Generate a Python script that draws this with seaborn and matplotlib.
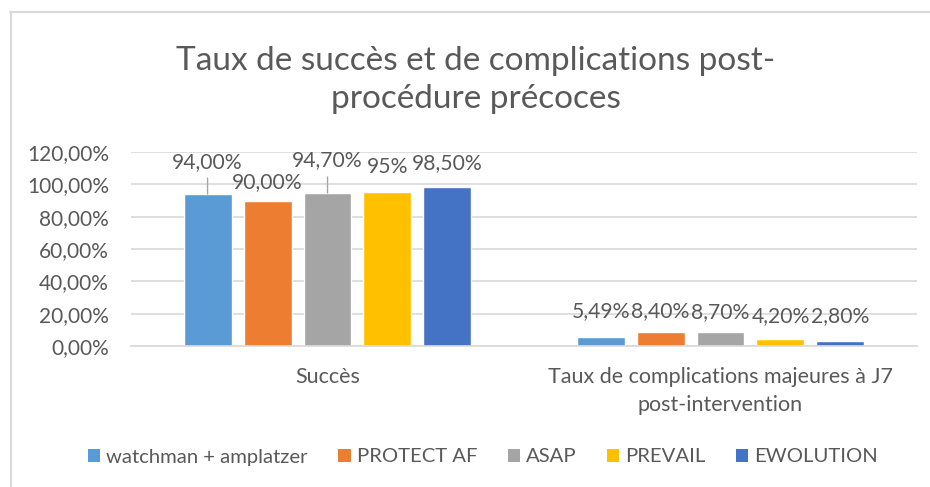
import matplotlib
matplotlib.use("Agg")
import matplotlib.pyplot as plt
import matplotlib.lines as mlines
import matplotlib.patches as mpatches
import seaborn as sns
import pandas as pd

# Data
categories = ["Succès", "Taux de complications majeures à J7\npost-intervention"]
series = ["watchman + amplatzer", "PROTECT AF", "ASAP", "PREVAIL", "EWOLUTION"]
succes = [94.00, 90.00, 94.70, 95.00, 98.50]
complications = [5.49, 8.40, 8.70, 4.20, 2.80]
labels_succes = ["94,00%", "90,00%", "94,70%", "95%", "98,50%"]
labels_complications = ["5,49%", "8,40%", "8,70%", "4,20%", "2,80%"]
yticks = [0, 20, 40, 60, 80, 100, 120]
ytick_labels = ["0,00%", "20,00%", "40,00%", "60,00%", "80,00%", "100,00%", "120,00%"]

colors = ["#5B9BD5", "#ED7D31", "#A5A5A5", "#FFC000", "#4472C4"]
text_color = "#595959"

rows = []
for s, v in zip(series, succes):
    rows.append({"cat": categories[0], "serie": s, "val": v})
for s, v in zip(series, complications):
    rows.append({"cat": categories[1], "serie": s, "val": v})
df = pd.DataFrame(rows)

sns.set_theme(style="white")
plt.rcParams["font.family"] = ["Lato", "DejaVu Sans"]

fig = plt.figure(figsize=(9.30, 4.87), dpi=100)
ax = fig.add_axes([131 / 930, 1 - 346 / 487, 786 / 930, 194 / 487])

sns.barplot(data=df, x="cat", y="val", hue="serie", hue_order=series,
            order=categories, palette=colors, width=0.763, gap=0.2,
            saturation=1, ax=ax, legend=False, errorbar=None)

ax.set_xlim(-0.5, 1.5)
ax.set_ylim(0, 120)
ax.set_yticks(yticks)
ax.set_yticklabels(ytick_labels, color=text_color, fontsize=15)
ax.tick_params(axis="y", length=0, pad=16)
ax.tick_params(axis="x", length=0, pad=15, labelcolor=text_color, labelsize=15.5)
for lbl in ax.get_xticklabels():
    lbl.set_linespacing(1.5)
ax.set_xlabel("")
ax.set_ylabel("")
ax.yaxis.grid(True, color="#D9D9D9", linewidth=1.2)
ax.set_axisbelow(True)
for side in ["top", "right", "left"]:
    ax.spines[side].set_visible(False)
ax.spines["bottom"].set_color("#D9D9D9")
ax.spines["bottom"].set_linewidth(1.2)

# Data labels: vertical offsets (pixels) above bar tops, with leader lines where moved
offsets = [[32, 18, 33, 25, 24], [26, 21, 20, 23, 25]]
leaders = [[True, False, True, False, False], [False] * 5]
all_labels = [labels_succes, labels_complications]
for h, container in enumerate(ax.containers):
    for c, bar in enumerate(container):
        xc = bar.get_x() + bar.get_width() / 2
        top = bar.get_height()
        off = offsets[c][h]
        ax.annotate(all_labels[c][h], xy=(xc, top), xytext=(0, off * 0.72),
                    textcoords="offset points", ha="center", va="center",
                    fontsize=15.2, color=text_color, annotation_clip=False)
        if leaders[c][h]:
            ax.annotate("", xy=(xc, top), xytext=(0, 16 * 0.72),
                        textcoords="offset points", annotation_clip=False,
                        arrowprops=dict(arrowstyle="-", color="#A6A6A6", lw=1.0,
                                        shrinkA=0, shrinkB=0))

# Title
fig.text(476 / 930, 1 - 80 / 487,
         "Taux de succès et de complications post-\nprocédure précoces",
         ha="center", va="center", fontsize=24, color=text_color, linespacing=1.3)

# Legend
handles = [mpatches.Patch(facecolor=c, edgecolor="none", label=s) for s, c in zip(series, colors)]
fig.legend(handles=handles, loc="center", bbox_to_anchor=(483 / 930, 1 - 457 / 487),
           ncol=5, frameon=False, fontsize=14.6, labelcolor=text_color,
           handlelength=0.6, handleheight=0.6, handletextpad=0.3, columnspacing=1.5)

# Chart area frame (left and top edges)
fig.add_artist(mlines.Line2D([10.5 / 930, 10.5 / 930], [0, 1 - 11.5 / 487],
                             transform=fig.transFigure, color="#D9D9D9", lw=1.5))
fig.add_artist(mlines.Line2D([10 / 930, 1], [1 - 11.5 / 487, 1 - 11.5 / 487],
                             transform=fig.transFigure, color="#D9D9D9", lw=1.5))

fig.savefig("out.png", dpi=100, facecolor="white")
